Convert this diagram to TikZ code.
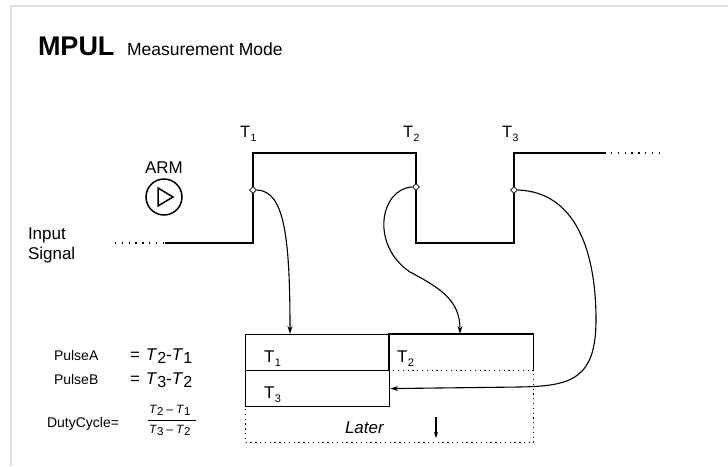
\documentclass[tikz,border=0pt]{standalone}
\usepackage{fontspec}
\setmainfont{Liberation Sans}
\usetikzlibrary{arrows.meta,calc,shapes.geometric}
\begin{document}
\begin{tikzpicture}[x=1pt,y=-1pt,
  sig/.style={line width=1.1pt},
  dotline/.style={line width=1.2pt,dash pattern=on 1.3pt off 5.5pt},
  boxline/.style={line width=1.2pt},
  con/.style={line width=1.1pt,-{Stealth[length=8pt,width=5pt]}},
  dia/.style={draw,fill=white,diamond,minimum size=7pt,inner sep=0pt,line width=0.8pt},
  lbl/.style={anchor=base west,inner sep=0pt,outer sep=0pt}]
\useasboundingbox (0,0) rectangle (728,466);
% frame
\draw[gray!25,line width=1.6pt] (11,466) -- (11,6) -- (728,6);
% title
\node[lbl] (title) at (38,55) {\fontsize{27}{27}\selectfont\bfseries MPUL};
\node[lbl] (mode) at (127,55) {\fontsize{17.5}{17.5}\selectfont Measurement Mode};
% signal
\coordinate (s0) at (115,243);
\coordinate (s1) at (165,243);
\coordinate (s2) at (253,243);
\coordinate (s3) at (253,153);
\coordinate (s4) at (416,153);
\coordinate (s5) at (416,243);
\coordinate (s6) at (514,243);
\coordinate (s7) at (514,153);
\coordinate (s8) at (606,153);
\coordinate (s9) at (660,153);
\draw[dotline] (s0) -- (s1);
\draw[sig] (s1) -- (s2) -- (s3) -- (s4) -- (s5) -- (s6) -- (s7) -- (s8);
\draw[dotline] ($(s8)+(5,0)$) -- (s9);
% T labels
\node[lbl] (t1) at (240,137) {\fontsize{16.5}{16.5}\selectfont T\kern0.5pt\raisebox{-4pt}{\fontsize{10.5}{10.5}\selectfont 1}};
\node[lbl] (t2) at (403,137) {\fontsize{16.5}{16.5}\selectfont T\kern0.5pt\raisebox{-4pt}{\fontsize{10.5}{10.5}\selectfont 2}};
\node[lbl] (t3) at (502,137) {\fontsize{16.5}{16.5}\selectfont T\kern0.5pt\raisebox{-4pt}{\fontsize{10.5}{10.5}\selectfont 3}};
% ARM
\node[anchor=base,inner sep=0pt] (arm) at (164,173) {\fontsize{17}{17}\selectfont ARM};
\node[draw,circle,line width=1.5pt,minimum size=36pt,inner sep=0pt] (armc) at (164,197) {};
\draw[line width=1.5pt,line join=miter] (158,188) -- (158,206) -- (173,197) -- cycle;
% Input signal
\node[lbl] (in1) at (28,239) {\fontsize{17}{17}\selectfont Input};
\node[lbl] (in2) at (28,259) {\fontsize{17}{17}\selectfont Signal};
% diamonds
\node[dia] (d1) at (253,190) {};
\node[dia] (d2) at (416,187) {};
\node[dia] (d3) at (514,190) {};
% boxes
\node[draw,boxline,minimum width=144pt,minimum height=36pt,inner sep=0pt,anchor=north west] (b1) at (245,334) {};
\node[minimum width=144pt,minimum height=36pt,inner sep=0pt,anchor=north west] (b2) at (389,334) {};
\draw[boxline] (b2.south west) -- (b2.north west) -- (b2.north east) -- (b2.south east);
\node[draw,boxline,minimum width=144pt,minimum height=36pt,inner sep=0pt,anchor=north west] (b3) at (245,370) {};
\node[draw,line width=1.2pt,dash pattern=on 1.3pt off 3.5pt,minimum width=288pt,minimum height=72pt,inner sep=0pt,anchor=north west] (later) at (245,370) {};
\node[lbl] (bt1) at (264,362) {\fontsize{17}{17}\selectfont T\kern0.5pt\raisebox{-4pt}{\fontsize{11}{11}\selectfont 1}};
\node[lbl] (bt2) at (397,362) {\fontsize{17}{17}\selectfont T\kern0.5pt\raisebox{-4pt}{\fontsize{11}{11}\selectfont 2}};
\node[lbl] (bt3) at (264,398) {\fontsize{17}{17}\selectfont T\kern0.5pt\raisebox{-4pt}{\fontsize{11}{11}\selectfont 3}};
\node[lbl] (ltxt) at (345,433) {\fontsize{17}{17}\selectfont\itshape Later};
\coordinate (la) at (436,417);
\coordinate (lb) at (436,438);
\draw[line width=1.1pt,-{Stealth[length=6pt,width=4pt]}] (la) -- (lb);
% connectors
\draw[con] (d1.east) .. controls (284,191) and (290,235) .. ($(b1.north west)+(45,0)$);
\draw[con] (d2.west) .. controls (380,189) and (370,245) .. (410,272) .. controls (440,288) and (460,300) .. ($(b2.north west)+(71,0)$);
\draw[con] (d3.east) .. controls (575,192) and (596,250) .. (596,320) .. controls (596,380) and (570,386) .. (520,387) -- (b3.east);
% formulas
\node[lbl] (pa) at (54,360) {\fontsize{14}{14}\selectfont PulseA};
\node[lbl] (pb) at (54,384) {\fontsize{14}{14}\selectfont PulseB};
\node[lbl] (pae) at (130,360) {\fontsize{17}{17}\selectfont =\kern6pt\textit{T}\raisebox{-3pt}{\fontsize{16}{16}\selectfont 2}-\textit{T}\raisebox{-3pt}{\fontsize{16}{16}\selectfont 1}};
\node[lbl] (pbe) at (130,384) {\fontsize{17}{17}\selectfont =\kern6pt\textit{T}\raisebox{-3pt}{\fontsize{16}{16}\selectfont 3}-\textit{T}\raisebox{-3pt}{\fontsize{16}{16}\selectfont 2}};
\node[lbl] (dc) at (47,427) {\fontsize{14}{14}\selectfont DutyCycle=};
\node[lbl] (num) at (149,413) {\fontsize{12}{12}\selectfont\textit{T}\raisebox{-2pt}{\fontsize{11.5}{11.5}\selectfont 2}\kern3pt–\kern3pt\textit{T}\raisebox{-2pt}{\fontsize{11.5}{11.5}\selectfont 1}};
\node[lbl] (den) at (149,433) {\fontsize{12}{12}\selectfont\textit{T}\raisebox{-2pt}{\fontsize{11.5}{11.5}\selectfont 3}\kern3pt–\kern3pt\textit{T}\raisebox{-2pt}{\fontsize{11.5}{11.5}\selectfont 2}};
\coordinate (f0) at (148,420);
\coordinate (f1) at (196,420);
\draw[line width=0.9pt] (f0) -- (f1);
\end{tikzpicture}
\end{document}
